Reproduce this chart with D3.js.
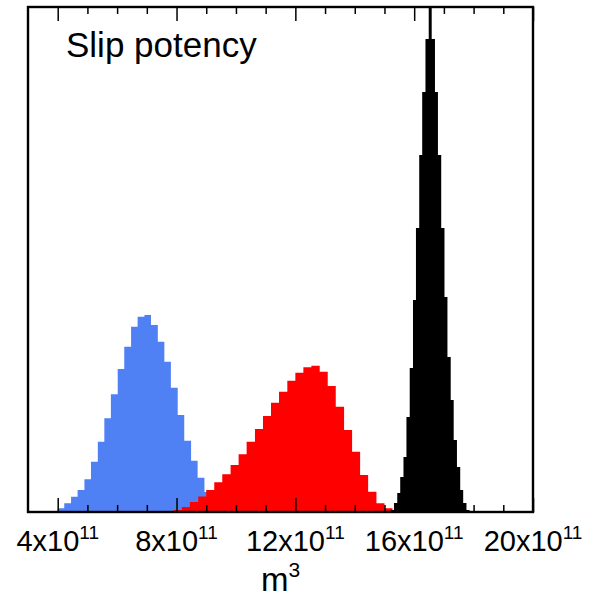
<!DOCTYPE html>
<html>
<head>
<meta charset="utf-8">
<script src="https://cdn.jsdelivr.net/npm/d3@7"></script>
<style>
  html, body { margin: 0; padding: 0; background: #fff; }
  svg { display: block; }
  text { font-family: "Liberation Sans", Arial, Helvetica, sans-serif; fill: #000; }
</style>
</head>
<body>
<svg id="chart" width="593" height="598"></svg>
<script>
// ---- data (x in units of 1e11 m^3, bin left edges; heights = counts) ----
const blueX = [3.55, 3.77, 4.00, 4.22, 4.45, 4.67, 4.90, 5.12, 5.35, 5.57, 5.79, 6.02, 6.24, 6.47,
               6.69, 6.92, 7.14, 7.37, 7.59, 7.81, 8.04, 8.26, 8.49, 8.71, 8.94, 9.16, 9.39, 9.61];
const blueH = [0.3, 0.7, 3.7, 8.7, 15.3, 22, 32.7, 50.3, 70.3, 93.7, 117.7, 143, 165.3, 185.3,
               195.3, 197, 187, 170.3, 150.3, 124.3, 97, 71.3, 51.3, 34.3, 20, 10, 4, 1.5];
const blueW = 0.2245;

const redX = [7.64, 7.91, 8.18, 8.45, 8.73, 9.00, 9.27, 9.54, 9.82, 10.09, 10.36, 10.64, 10.91, 11.18,
              11.45, 11.73, 12.00, 12.27, 12.54, 12.82, 13.09, 13.36, 13.64, 13.91, 14.18, 14.45, 14.73, 15.00, 15.27];
const redH = [0.7, 2, 5, 10, 15.5, 22, 29.7, 37.7, 47, 57.7, 70.3, 83, 96, 109.3,
              120.3, 131.3, 139.3, 144.7, 146.3, 140.3, 126, 105.3, 82, 60.3, 37, 20.3, 8.7, 3.7, 1.5];
const redW = 0.2727;

const blackX = [15.21, 15.32, 15.43, 15.53, 15.64, 15.74, 15.85, 15.96, 16.06, 16.17, 16.27, 16.38, 16.49,
                16.59, 16.70, 16.80, 16.91, 17.02, 17.12, 17.23, 17.33, 17.44, 17.55, 17.65, 17.76];
const blackH = [2, 9, 19, 35, 55, 95, 144, 212, 284, 357, 420, 473, 505,
                473, 420, 357, 284, 215, 155, 112, 72, 45, 22, 9, 2];
const blackW = 0.106;

const majorTicks = [4, 8, 12, 16, 20];
const majorLabels = ["4", "8", "12", "16", "20"];
const minorTicks = [5, 6, 7, 9, 10, 11, 13, 14, 15, 17, 18, 19];
const xDomain = [3, 20];
const yDomain = [0, 505];
const title = "Slip potency";

// ---- layout ----
const L = 28, R = 533, T = 7, B = 512;
const svg = d3.select("#chart");
const x = d3.scaleLinear().domain(xDomain).range([L, R]);
const y = d3.scaleLinear().domain(yDomain).range([B, T]);

svg.append("defs").append("clipPath").attr("id", "clip")
  .append("rect").attr("x", L).attr("y", T).attr("width", R - L).attr("height", B - T);

const area = d3.area()
  .x(d => x(d[0])).y0(y(0)).y1(d => y(d[1]))
  .curve(d3.curveStepAfter);

function series(xs, hs, w, color) {
  const pts = xs.map((v, i) => [v, hs[i]]);
  pts.push([xs[xs.length - 1] + w, 0]);
  svg.append("path").attr("clip-path", "url(#clip)")
    .attr("d", area(pts)).attr("fill", color).attr("stroke", "none");
}
series(blueX, blueH, blueW, "#4f80f4");
series(redX, redH, redW, "#ff0000");
series(blackX, blackH, blackW, "#000000");

// ---- axes (inward ticks, top and bottom) ----
function ax(gen, ty, vals, size) {
  const g = svg.append("g").attr("transform", `translate(0,${ty})`)
    .call(gen(x).tickValues(vals).tickSize(size).tickFormat(""));
  g.select(".domain").remove();
  g.selectAll(".tick line").attr("stroke", "#000").attr("stroke-width", 1.5);
}
ax(d3.axisBottom, B, majorTicks, -14);
ax(d3.axisBottom, B, minorTicks, -7);
ax(d3.axisTop, T, majorTicks, -14);
ax(d3.axisTop, T, minorTicks, -7);

// frame
svg.append("rect").attr("x", L).attr("y", T).attr("width", R - L).attr("height", B - T)
  .attr("fill", "none").attr("stroke", "#000").attr("stroke-width", 2.4);

// tick labels
majorTicks.forEach((v, i) => {
  const t = svg.append("text").attr("x", x(v)).attr("y", 551)
    .attr("text-anchor", "middle").attr("font-size", 29);
  t.append("tspan").text(majorLabels[i] + "x10");
  t.append("tspan").attr("dy", -12).attr("font-size", 19).text("11");
});

// axis title
const at = svg.append("text").attr("x", (L + R) / 2).attr("y", 591)
  .attr("text-anchor", "middle").attr("font-size", 33);
at.append("tspan").text("m");
at.append("tspan").attr("dy", -14).attr("font-size", 21).text("3");

// title
svg.append("text").attr("x", 66).attr("y", 57).attr("font-size", 35).text(title);
</script>
</body>
</html>
